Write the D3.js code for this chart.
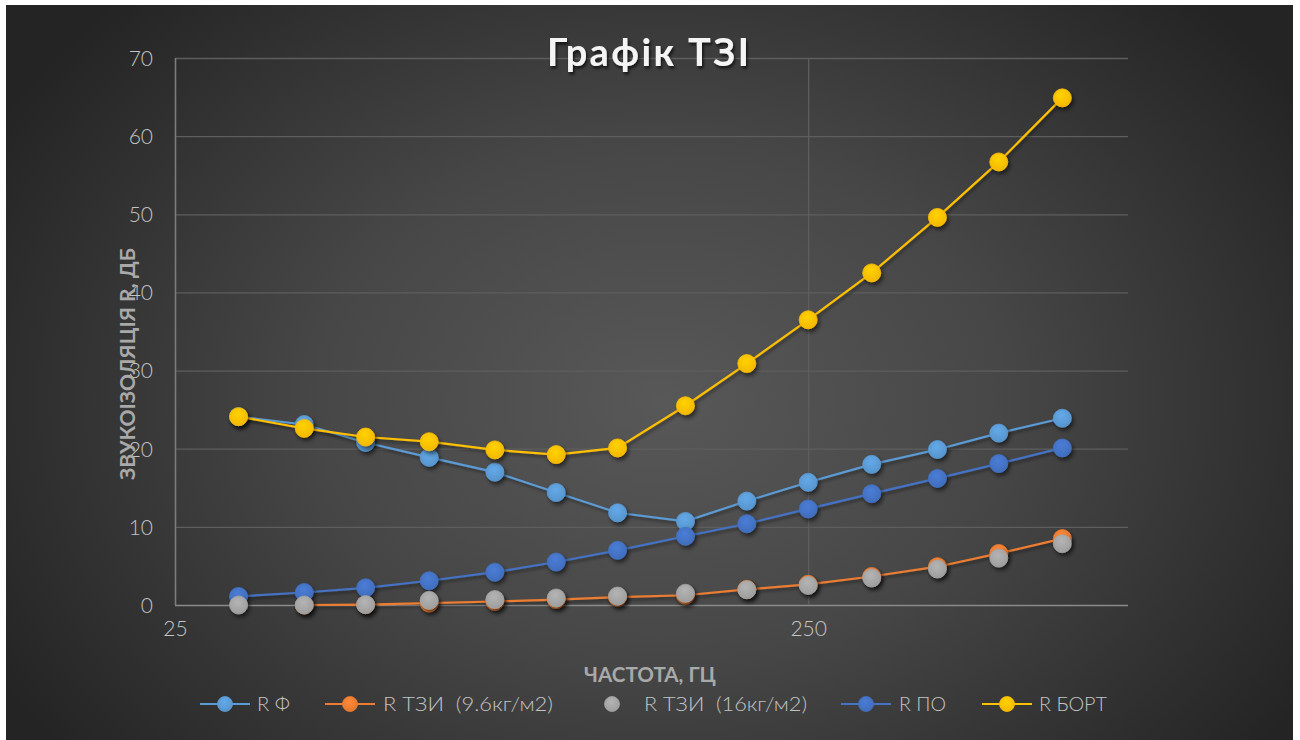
<!DOCTYPE html>
<html>
<head>
<meta charset="utf-8">
<script src="https://cdn.jsdelivr.net/npm/d3@7"></script>
<style>
html,body{margin:0;padding:0;background:#ffffff;}
svg{display:block;}
text{white-space:pre;}
</style>
</head>
<body>
<svg id="chart" width="1300" height="740"></svg>
<script>
// ---- data ----
const freqs = [31.5, 40, 50, 63, 80, 100, 125, 160, 200, 250, 315, 400, 500, 630];
const rF    = [24.1, 23.1, 20.8, 18.9, 17.0, 14.4, 11.8, 10.7, 13.3, 15.7, 18.0, 19.9, 22.0, 23.9];
const rT96  = [null, 0, 0.05, 0.25, 0.45, 0.7, 1.0, 1.25, 2.0, 2.65, 3.65, 4.9, 6.6, 8.5];
const rT16  = [0, 0, 0.05, 0.6, 0.7, 0.9, 1.15, 1.5, 1.95, 2.5, 3.45, 4.6, 6.0, 7.85];
const rPO   = [1.1, 1.6, 2.2, 3.1, 4.2, 5.5, 7.0, 8.8, 10.4, 12.3, 14.25, 16.2, 18.1, 20.1];
const rBort = [24.1, 22.6, 21.5, 20.9, 19.85, 19.25, 20.1, 25.5, 30.9, 36.5, 42.5, 49.6, 56.7, 64.9];

const seriesNames = ["R Ф", "R ТЗИ  (9.6кг/м2)", "R ТЗИ  (16кг/м2)", "R ПО", "R БОРТ"];
const xTickValues = [25, 250];
const yTickValues = [0, 10, 20, 30, 40, 50, 60, 70];
const titleText = "Графік ТЗІ";
const xTitle = "ЧАСТОТА, ГЦ";
const yTitle = "ЗВУКОІЗОЛЯЦІЯ R, ДБ";

// ---- layout / style ----
const colors = ["#5B9BD5", "#ED7D31", "#A5A5A5", "#4472C4", "#FFC000"];
const showLine = [true, true, false, true, true];
const seriesValues = [rF, rT96, rT16, rPO, rBort];
const drawOrder = [0, 1, 3, 2, 4];
const legendMarkerX = [225, 350, 612, 866, 1007];
const legendTextX = [257, 383, 644, 899, 1039];
const legendTextW = [33, 170, 163, 47, 68];

const svg = d3.select("#chart");
const defs = svg.append("defs");

const bg = defs.append("radialGradient").attr("id", "bg")
  .attr("gradientUnits", "userSpaceOnUse")
  .attr("cx", 660).attr("cy", 400).attr("r", 760)
  .attr("gradientTransform", "translate(660,400) scale(1,0.75) translate(-660,-400)");
bg.append("stop").attr("offset", "0%").attr("stop-color", "#585858");
bg.append("stop").attr("offset", "45%").attr("stop-color", "#474747");
bg.append("stop").attr("offset", "100%").attr("stop-color", "#242424");

const sh = defs.append("filter").attr("id", "shadow")
  .attr("x", "-50%").attr("y", "-50%").attr("width", "200%").attr("height", "200%");
sh.append("feDropShadow").attr("dx", 2).attr("dy", 3).attr("stdDeviation", 2)
  .attr("flood-color", "#000").attr("flood-opacity", 0.55);

const lsh = defs.append("filter").attr("id", "lshadow")
  .attr("x", "-10%").attr("y", "-10%").attr("width", "120%").attr("height", "120%");
lsh.append("feDropShadow").attr("dx", 1.5).attr("dy", 2.5).attr("stdDeviation", 1.5)
  .attr("flood-color", "#000").attr("flood-opacity", 0.4);

const tsh = defs.append("filter").attr("id", "tshadow")
  .attr("x", "-20%").attr("y", "-40%").attr("width", "140%").attr("height", "180%");
tsh.append("feDropShadow").attr("dx", 1.5).attr("dy", 2.5).attr("stdDeviation", 1.8)
  .attr("flood-color", "#000").attr("flood-opacity", 0.7);

// marker gradients (slight top highlight)
colors.forEach((c, i) => {
  const g = defs.append("radialGradient").attr("id", "mk" + i)
    .attr("cx", "45%").attr("cy", "35%").attr("r", "70%");
  g.append("stop").attr("offset", "0%").attr("stop-color", d3.color(c).brighter(0.25));
  g.append("stop").attr("offset", "100%").attr("stop-color", d3.color(c).darker(0.15));
});

svg.append("rect").attr("x", 6).attr("y", 5).attr("width", 1287).attr("height", 735)
  .attr("fill", "url(#bg)");

const plot = {left: 175, right: 1128, top: 58, bottom: 605};
const x = d3.scaleLog().base(10).domain([25, 800]).range([plot.left, plot.right]);
const y = d3.scaleLinear().domain([0, 70]).range([plot.bottom, plot.top]);

const font = "Lato, 'Open Sans', 'DejaVu Sans', sans-serif";

// horizontal gridlines
svg.append("g").attr("transform", `translate(${plot.left},0)`)
  .call(d3.axisLeft(y).tickValues(yTickValues).tickSize(-(plot.right - plot.left)).tickFormat(""))
  .call(g => g.select(".domain").remove())
  .call(g => g.selectAll(".tick line").attr("stroke", "#5e5e5e").attr("stroke-width", 1.3)
     .filter(d => d === 0).attr("stroke", "#8a8a8a").attr("stroke-width", 1.6));

// vertical gridlines
svg.append("g").attr("transform", `translate(0,${plot.bottom})`)
  .call(d3.axisBottom(x).tickValues(xTickValues).tickSize(-(plot.bottom - plot.top)).tickFormat(""))
  .call(g => g.select(".domain").remove())
  .call(g => g.selectAll(".tick line").attr("stroke", "#5e5e5e").attr("stroke-width", 1.3)
     .filter(d => d === 25).attr("stroke", "#7c7c7c").attr("stroke-width", 1.6));

// y tick labels
svg.append("g").attr("transform", `translate(${plot.left},0)`)
  .call(d3.axisLeft(y).tickValues(yTickValues).tickSize(0).tickPadding(22).tickFormat(d3.format("d")))
  .call(g => g.select(".domain").remove())
  .call(g => g.selectAll("text").attr("fill", "#c4c4c4").attr("font-size", 21)
     .attr("font-family", font).attr("font-weight", 300).attr("dy", "0.35em"));

// x tick labels
svg.append("g").attr("transform", `translate(0,${plot.bottom})`)
  .call(d3.axisBottom(x).tickValues(xTickValues).tickSize(0).tickPadding(24).tickFormat(d3.format("d")))
  .call(g => g.select(".domain").remove())
  .call(g => g.selectAll("text").attr("fill", "#c4c4c4").attr("font-size", 21)
     .attr("font-family", font).attr("font-weight", 300).attr("dy", "0.35em"));

// axis titles
svg.append("text").attr("x", 650).attr("y", 682).attr("text-anchor", "middle")
  .attr("font-family", font).attr("font-weight", "bold").attr("font-size", 20)
  .attr("fill", "#a9a9a9").attr("textLength", 132).attr("lengthAdjust", "spacingAndGlyphs")
  .text(xTitle);

svg.append("text").attr("transform", "translate(135,364) rotate(-90)").attr("text-anchor", "middle")
  .attr("font-family", font).attr("font-weight", "bold").attr("font-size", 21)
  .attr("fill", "#a9a9a9").attr("textLength", 232).attr("lengthAdjust", "spacingAndGlyphs")
  .text(yTitle);

// title
svg.append("text").attr("x", 648).attr("y", 66).attr("text-anchor", "middle")
  .attr("font-family", font).attr("font-weight", "bold").attr("font-size", 38)
  .attr("fill", "#f4f4f4").attr("filter", "url(#tshadow)")
  .attr("textLength", 202).attr("lengthAdjust", "spacing")
  .text(titleText);

// series
const line = d3.line().defined(d => d.v !== null).x(d => x(d.f)).y(d => y(d.v));
const R = 9;
drawOrder.forEach(i => {
  const data = freqs.map((f, k) => ({f: f, v: seriesValues[i][k]}));
  const g = svg.append("g");
  if (showLine[i]) {
    g.append("path").datum(data).attr("d", line).attr("fill", "none")
      .attr("stroke", colors[i]).attr("stroke-width", 2.2).attr("filter", "url(#lshadow)");
  }
  g.selectAll("circle").data(data.filter(d => d.v !== null)).join("circle")
    .attr("cx", d => x(d.f)).attr("cy", d => y(d.v)).attr("r", R)
    .attr("fill", `url(#mk${i})`).attr("stroke", colors[i]).attr("stroke-width", 0.8)
    .attr("filter", "url(#shadow)");
});

// legend
const ly = 704;
const leg = svg.append("g");
seriesNames.forEach((name, i) => {
  const mx = legendMarkerX[i];
  if (showLine[i]) {
    leg.append("line").attr("x1", mx - 25).attr("x2", mx + 25).attr("y1", ly).attr("y2", ly)
      .attr("stroke", colors[i]).attr("stroke-width", 2.2);
  }
  leg.append("circle").attr("cx", mx).attr("cy", ly).attr("r", 7.5).attr("fill", `url(#mk${i})`)
    .attr("stroke", colors[i]).attr("stroke-width", 0.8);
  leg.append("text").attr("x", legendTextX[i]).attr("y", ly).attr("dy", "0.35em")
    .attr("font-family", font).attr("font-size", 19).attr("font-weight", 300)
    .attr("fill", "#c4c4c4").attr("textLength", legendTextW[i]).attr("lengthAdjust", "spacingAndGlyphs")
    .text(name);
});
</script>
</body>
</html>
